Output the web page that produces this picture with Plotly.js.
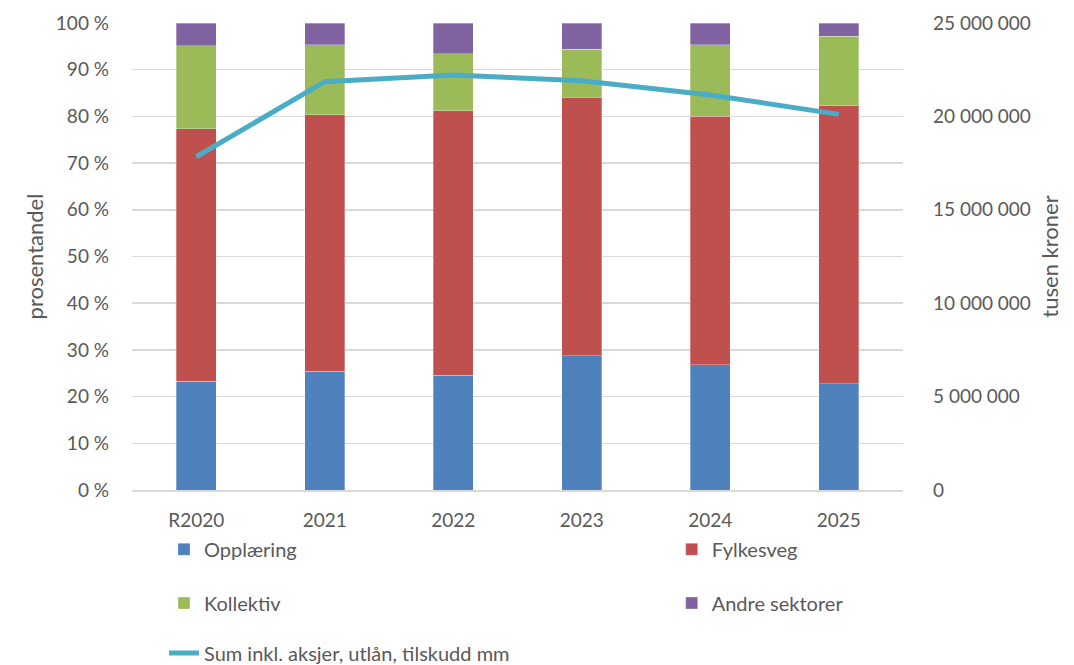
<!DOCTYPE html>
<html>
<head>
<meta charset="utf-8">
<script src="https://cdn.plot.ly/plotly-3.0.1.min.js"></script>
<style>
  html, body { margin: 0; padding: 0; background: #fff; }
  #plot { width: 1074px; height: 665px; }
</style>
</head>
<body>
<div id="plot"></div>
<script>
// categories and values
const years = ['R2020', '2021', '2022', '2023', '2024', '2025'];
const opplaering = [23.3, 25.4, 24.6, 28.7, 26.8, 22.7];
const fylkesveg = [54.1, 55.0, 56.6, 55.4, 53.2, 59.6];
const kollektiv = [17.7, 14.9, 12.2, 10.3, 15.3, 14.9];
const andre = [4.9, 4.7, 6.6, 5.6, 4.7, 2.8];
const sumTotal = [17840000, 21860000, 22220000, 21910000, 21150000, 20110000];

const textColor = '#595959';
const gridColor = '#d9d9d9';
const font = 'Lato, "Open Sans", sans-serif';

function barTrace(name, values, color, legend) {
    return {
        type: 'bar',
        name: name,
        x: years,
        y: values,
        marker: { color: color, line: { color: 'rgba(255,255,255,0.6)', width: 0.5 } },
        legend: legend,
        hoverinfo: 'y+name'
    };
}

const traces = [
    barTrace('Opplæring', opplaering, '#4f81bd', 'legend'),
    barTrace('Fylkesveg', fylkesveg, '#c0504d', 'legend2'),
    barTrace('Kollektiv', kollektiv, '#9bbb59', 'legend3'),
    barTrace('Andre sektorer', andre, '#8064a2', 'legend4'),
    {
        type: 'scatter',
        mode: 'lines',
        name: 'Sum inkl. aksjer, utlån, tilskudd mm',
        x: years,
        y: sumTotal,
        yaxis: 'y2',
        line: { color: '#4bacc6', width: 5 },
        legend: 'legend5'
    }
];

// one small legend per entry, placed like the two-column legend of the original
function legendAt(x, y) {
    return {
        orientation: 'h',
        xanchor: 'left',
        yanchor: 'middle',
        x: x,
        y: y,
        font: { family: font, size: 20, color: textColor },
        bgcolor: 'rgba(0,0,0,0)'
    };
}

const layout = {
    width: 1074,
    height: 665,
    margin: { l: 132, r: 171, t: 23, b: 175, autoexpand: false },
    paper_bgcolor: '#ffffff',
    plot_bgcolor: '#ffffff',
    barmode: 'stack',
    bargap: 0.69,
    separators: ', ',
    font: { family: font, size: 19, color: textColor },
    showlegend: true,
    legend: legendAt(0.0415, -0.127),
    legend2: legendAt(0.70, -0.127),
    legend3: legendAt(0.0415, -0.242),
    legend4: legendAt(0.70, -0.242),
    legend5: legendAt(0.0415, -0.349),
    xaxis: {
        type: 'category',
        showgrid: false,
        showline: true,
        linecolor: gridColor,
        linewidth: 1.5,
        ticks: '',
        ticklabelstandoff: 13,
        tickfont: { family: font, size: 19, color: textColor }
    },
    yaxis: {
        range: [0, 100],
        dtick: 10,
        ticksuffix: ' %',
        showgrid: true,
        gridcolor: gridColor,
        gridwidth: 1.5,
        zeroline: false,
        showline: false,
        ticks: '',
        ticklabelstandoff: 22,
        tickfont: { family: font, size: 19, color: textColor },
        title: { text: 'prosentandel', font: { family: font, size: 22, color: textColor }, standoff: 6 }
    },
    yaxis2: {
        overlaying: 'y',
        side: 'right',
        range: [0, 25000000],
        dtick: 5000000,
        tickformat: ',d',
        showgrid: false,
        zeroline: false,
        ticks: '',
        ticklabelstandoff: 29,
        tickfont: { family: font, size: 19, color: textColor },
        title: { text: 'tusen kroner', font: { family: font, size: 22, color: textColor }, standoff: 12 }
    }
};

Plotly.newPlot('plot', traces, layout, { displayModeBar: false, staticPlot: true });
</script>
</body>
</html>
